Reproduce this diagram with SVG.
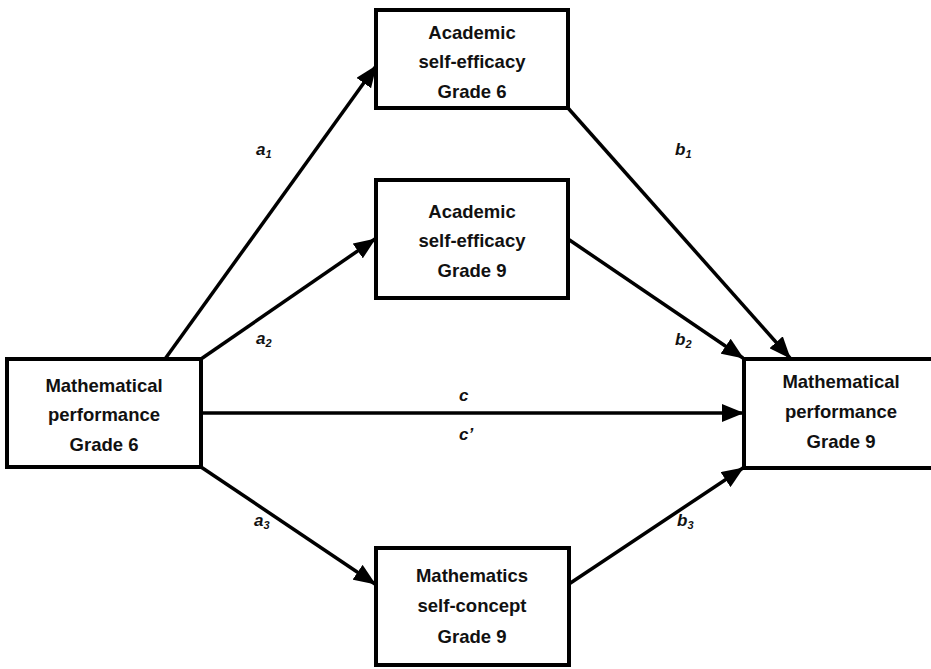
<svg xmlns="http://www.w3.org/2000/svg" width="931" height="669" viewBox="0 0 931 669">
<defs>
<style>
.box{fill:#fff;stroke:#000;stroke-width:4}
.t{font-family:"Liberation Sans",Arial,sans-serif;font-weight:bold;font-size:18.5px;text-anchor:middle;fill:#111}
.lbl{font-family:"Liberation Sans",Arial,sans-serif;font-weight:bold;font-style:italic;font-size:17px;fill:#111}
.sub{font-size:11px}
.ln{stroke:#000;stroke-width:3.5;fill:none;marker-end:url(#ah)}
</style>
<marker id="ah" markerUnits="userSpaceOnUse" markerWidth="22" markerHeight="18" refX="21" refY="9" orient="auto" viewBox="0 0 22 18">
<path d="M0,0 L22,9 L0,18 z" fill="#000"/>
</marker>
</defs>
<rect width="931" height="669" fill="#fff"/>
<g id="connectors">
<line class="ln" x1="165" y1="359" x2="376" y2="66"/>
<line class="ln" x1="201" y1="359" x2="375" y2="239"/>
<line class="ln" x1="201" y1="413" x2="743" y2="413"/>
<line class="ln" x1="201" y1="467" x2="375" y2="584"/>
<line class="ln" x1="568" y1="108" x2="790" y2="358"/>
<line class="ln" x1="568" y1="239" x2="743" y2="358"/>
<line class="ln" x1="569" y1="584" x2="743" y2="468"/>
</g>
<g id="labels">
<text class="lbl" x="256" y="155">a<tspan class="sub" dy="3">1</tspan></text>
<text class="lbl" x="256" y="344">a<tspan class="sub" dy="3">2</tspan></text>
<text class="lbl" x="254" y="526">a<tspan class="sub" dy="3">3</tspan></text>
<text class="lbl" x="675" y="155">b<tspan class="sub" dy="3">1</tspan></text>
<text class="lbl" x="675" y="345">b<tspan class="sub" dy="3">2</tspan></text>
<text class="lbl" x="677" y="526">b<tspan class="sub" dy="3">3</tspan></text>
<text class="lbl" x="459" y="401">c</text>
<text class="lbl" x="459" y="440">c’</text>
</g>
<g id="node-math6">
<rect class="box" x="7" y="359" width="194" height="108"/>
<text class="t" x="104" y="392">Mathematical</text>
<text class="t" x="104" y="421">performance</text>
<text class="t" x="104" y="451">Grade 6</text>
</g>
<g id="node-ase6">
<rect class="box" x="376" y="10" width="192" height="98"/>
<text class="t" x="472" y="39">Academic</text>
<text class="t" x="472" y="68">self-efficacy</text>
<text class="t" x="472" y="98">Grade 6</text>
</g>
<g id="node-ase9">
<rect class="box" x="376" y="180" width="192" height="118"/>
<text class="t" x="472" y="218">Academic</text>
<text class="t" x="472" y="247">self-efficacy</text>
<text class="t" x="472" y="277">Grade 9</text>
</g>
<g id="node-msc9">
<rect class="box" x="376" y="548" width="193" height="117"/>
<text class="t" x="472" y="582">Mathematics</text>
<text class="t" x="472" y="612">self-concept</text>
<text class="t" x="472" y="643">Grade 9</text>
</g>
<g id="node-math9">
<rect class="box" x="744" y="359" width="196" height="109"/>
<text class="t" x="841" y="388">Mathematical</text>
<text class="t" x="841" y="418">performance</text>
<text class="t" x="841" y="448">Grade 9</text>
</g>
</svg>
